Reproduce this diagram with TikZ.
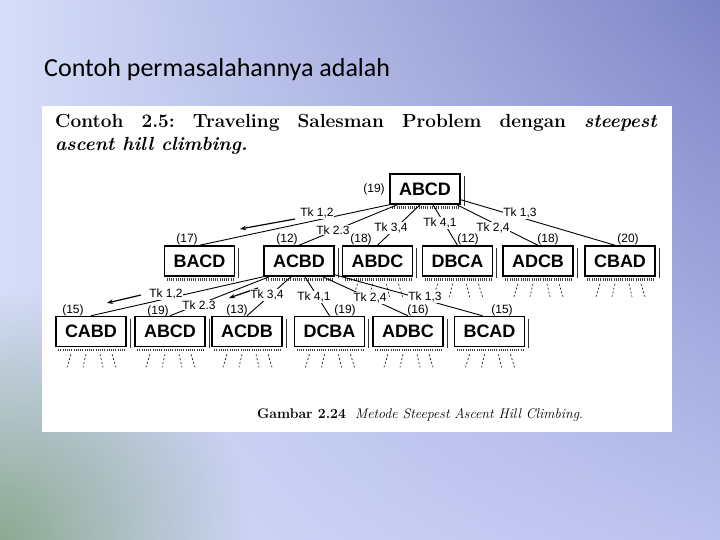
\documentclass[tikz,border=0pt]{standalone}
\usepackage{fontspec}
\newfontfamily\slidefont{Carlito}
\newfontfamily\treefont{Liberation Sans}
\usetikzlibrary{arrows.meta,fadings,shadings}
\frenchspacing

\definecolor{bgtl}{RGB}{214,222,250}
\definecolor{bgtr}{RGB}{125,132,198}
\definecolor{bgbl}{RGB}{212,220,248}
\definecolor{bgbr}{RGB}{188,194,238}
\definecolor{bggreen}{RGB}{128,160,128}
\tikzfading[name=cornerfade,inner color=transparent!15,outer color=transparent!100]

\begin{document}
\begin{tikzpicture}[x=1pt,y=-1pt,
  statebox/.style={draw,line width=1.5pt,minimum width=70pt,minimum height=30pt,inner sep=0pt,
    font=\treefont\bfseries\fontsize{18}{20}\selectfont},
  cost/.style={inner sep=0pt,font=\treefont\fontsize{12}{14}\selectfont},
  tk/.style={fill=white,inner sep=0.6pt,font=\treefont\fontsize{12}{14}\selectfont},
  treeline/.style={line width=0.9pt},
  back/.style={-{Stealth[length=6pt,width=4.5pt]},line width=1.2pt}]
  \useasboundingbox (0,0) rectangle (720,540);
  \clip (0,0) rectangle (720,540);
  % slide background
  \shade[upper left=bgtl,upper right=bgtr,lower left=bgbl,lower right=bgbr] (0,0) rectangle (720,540);
  \fill[bggreen,path fading=cornerfade,fit fading=true] (0,540) circle[radius=250pt];
  \fill[white] (42,106) rectangle (672,432);
  \node[anchor=base west,inner sep=0pt,font=\slidefont\fontsize{26}{30}\selectfont] (title) at (44,77) {Contoh permasalahannya adalah};
  % scanned figure
  \node[anchor=base west,inner sep=0pt,font=\bfseries\fontsize{19}{22}\selectfont] (head1) at (55,128)
    {\makebox[602pt][s]{Contoh 2.5: Traveling Salesman Problem dengan \textit{steepest}}};
  \node[anchor=base west,inner sep=0pt,font=\bfseries\itshape\fontsize{19}{22}\selectfont] (head2) at (55,151) {ascent hill climbing.};
  \node[anchor=base,inner sep=0pt,font=\fontsize{14}{17}\selectfont] (caption) at (420,418)
    {\textbf{Gambar 2.24}\ \ \textit{Metode Steepest Ascent Hill Climbing}.};

  \node[statebox] (root) at (425,189) {ABCD};
  \node[statebox] (bacd) at (199.5,261) {BACD};
  \node[statebox] (acbd) at (299,261) {ACBD};
  \node[statebox] (abdc) at (377.5,261) {ABDC};
  \node[statebox] (dbca) at (457.5,261) {DBCA};
  \node[statebox] (adcb) at (538,261) {ADCB};
  \node[statebox] (cbad) at (620,261) {CBAD};
  \node[statebox] (cabd) at (91,331.5) {CABD};
  \node[statebox] (abcdb) at (170,331.5) {ABCD};
  \node[statebox] (acdb) at (247,331.5) {ACDB};
  \node[statebox] (dcba) at (329.5,331.5) {DCBA};
  \node[statebox] (adbc) at (408,331.5) {ADBC};
  \node[statebox] (bcad) at (489.5,331.5) {BCAD};

  % fringe under and beside every box
  \foreach \n in {root,bacd,acbd,abdc,dbca,adcb,cbad,cabd,abcdb,acdb,dcba,adbc,bcad}{
    \draw[line width=2.6pt,dash pattern=on 0.7pt off 1.5pt,black!75] ([xshift=3pt,yshift=-2.6pt]\n.south west) -- ([xshift=-1pt,yshift=-2.6pt]\n.south east);
    \draw[line width=1pt,black!80] ([xshift=3.5pt,yshift=-3pt]\n.north east) -- ([xshift=3.5pt,yshift=-1pt]\n.south east);
  }
  % unexpanded successors
  \foreach \n in {abdc,dbca,adcb,cbad,cabd,abcdb,acdb,dcba,adbc,bcad}{
    \foreach \a/\b in {-20/-24,-5/-8,9/12,21/25}
      \draw[line width=0.6pt,dash pattern=on 2pt off 2pt] ([xshift=\a pt,yshift=-7pt]\n.south) -- ([xshift=\b pt,yshift=-20pt]\n.south);
  }

  % successors of the root
  \draw[treeline] (root.south west) -- (bacd.north);
  \draw[treeline] ([xshift=8pt]root.south west) -- (acbd.north);
  \draw[treeline] ([xshift=-5pt]root.south) -- (abdc.north);
  \draw[treeline] ([xshift=8pt]root.south) -- (dbca.north);
  \draw[treeline] ([xshift=-4pt]root.south east) -- (adcb.north);
  \draw[treeline] ([yshift=5pt]root.south east) -- ([xshift=-5pt]cbad.north);
  % successors of ACBD
  \draw[treeline] (acbd.south west) -- (cabd.north);
  \draw[treeline] ([xshift=6pt]acbd.south west) -- (abcdb.north);
  \draw[treeline] ([xshift=-8pt]acbd.south) -- (acdb.north);
  \draw[treeline] ([xshift=6pt]acbd.south) -- (dcba.north);
  \draw[treeline] ([xshift=-12pt]acbd.south east) -- (adbc.north);
  \draw[treeline] ([yshift=2pt]acbd.south east) -- ([xshift=-7pt]bcad.north);

  \coordinate (a1s) at (295,219); \coordinate (a1e) at (240,229);
  \coordinate (a2s) at (141,295); \coordinate (a2e) at (107,303);
  \coordinate (a3s) at (258,288); \coordinate (a3e) at (229,298);
  \draw[back] (a1s) -- (a1e);
  \draw[back] (a2s) -- (a2e);
  \draw[back] (a3s) -- (a3e);

  \node[tk] (t11) at (317,213) {Tk 1,2};
  \node[tk] (t12) at (333,230) {Tk 2.3};
  \node[tk] (t13) at (391,228) {Tk 3,4};
  \node[tk] (t14) at (440,223) {Tk 4,1};
  \node[tk] (t15) at (493,228) {Tk 2,4};
  \node[tk] (t16) at (520,213) {Tk 1,3};
  \node[tk] (t21) at (166,294) {Tk 1,2};
  \node[tk] (t22) at (199,305) {Tk 2.3};
  \node[tk] (t23) at (267,295) {Tk 3,4};
  \node[tk] (t24) at (314,297) {Tk 4,1};
  \node[tk] (t25) at (370,298) {Tk 2,4};
  \node[tk] (t26) at (425,297) {Tk 1,3};

  \node[cost] (c0) at (374,189) {(19)};
  \node[cost] (c11) at (187,239) {(17)};
  \node[cost] (c12) at (287,239) {(12)};
  \node[cost] (c13) at (361,239) {(18)};
  \node[cost] (c14) at (468,239) {(12)};
  \node[cost] (c15) at (548,239) {(18)};
  \node[cost] (c16) at (628,239) {(20)};
  \node[cost] (c21) at (73,310) {(15)};
  \node[cost] (c22) at (158,311) {(19)};
  \node[cost] (c23) at (237,310) {(13)};
  \node[cost] (c24) at (345,310) {(19)};
  \node[cost] (c25) at (418,310) {(16)};
  \node[cost] (c26) at (502,310) {(15)};
\end{tikzpicture}
\end{document}
